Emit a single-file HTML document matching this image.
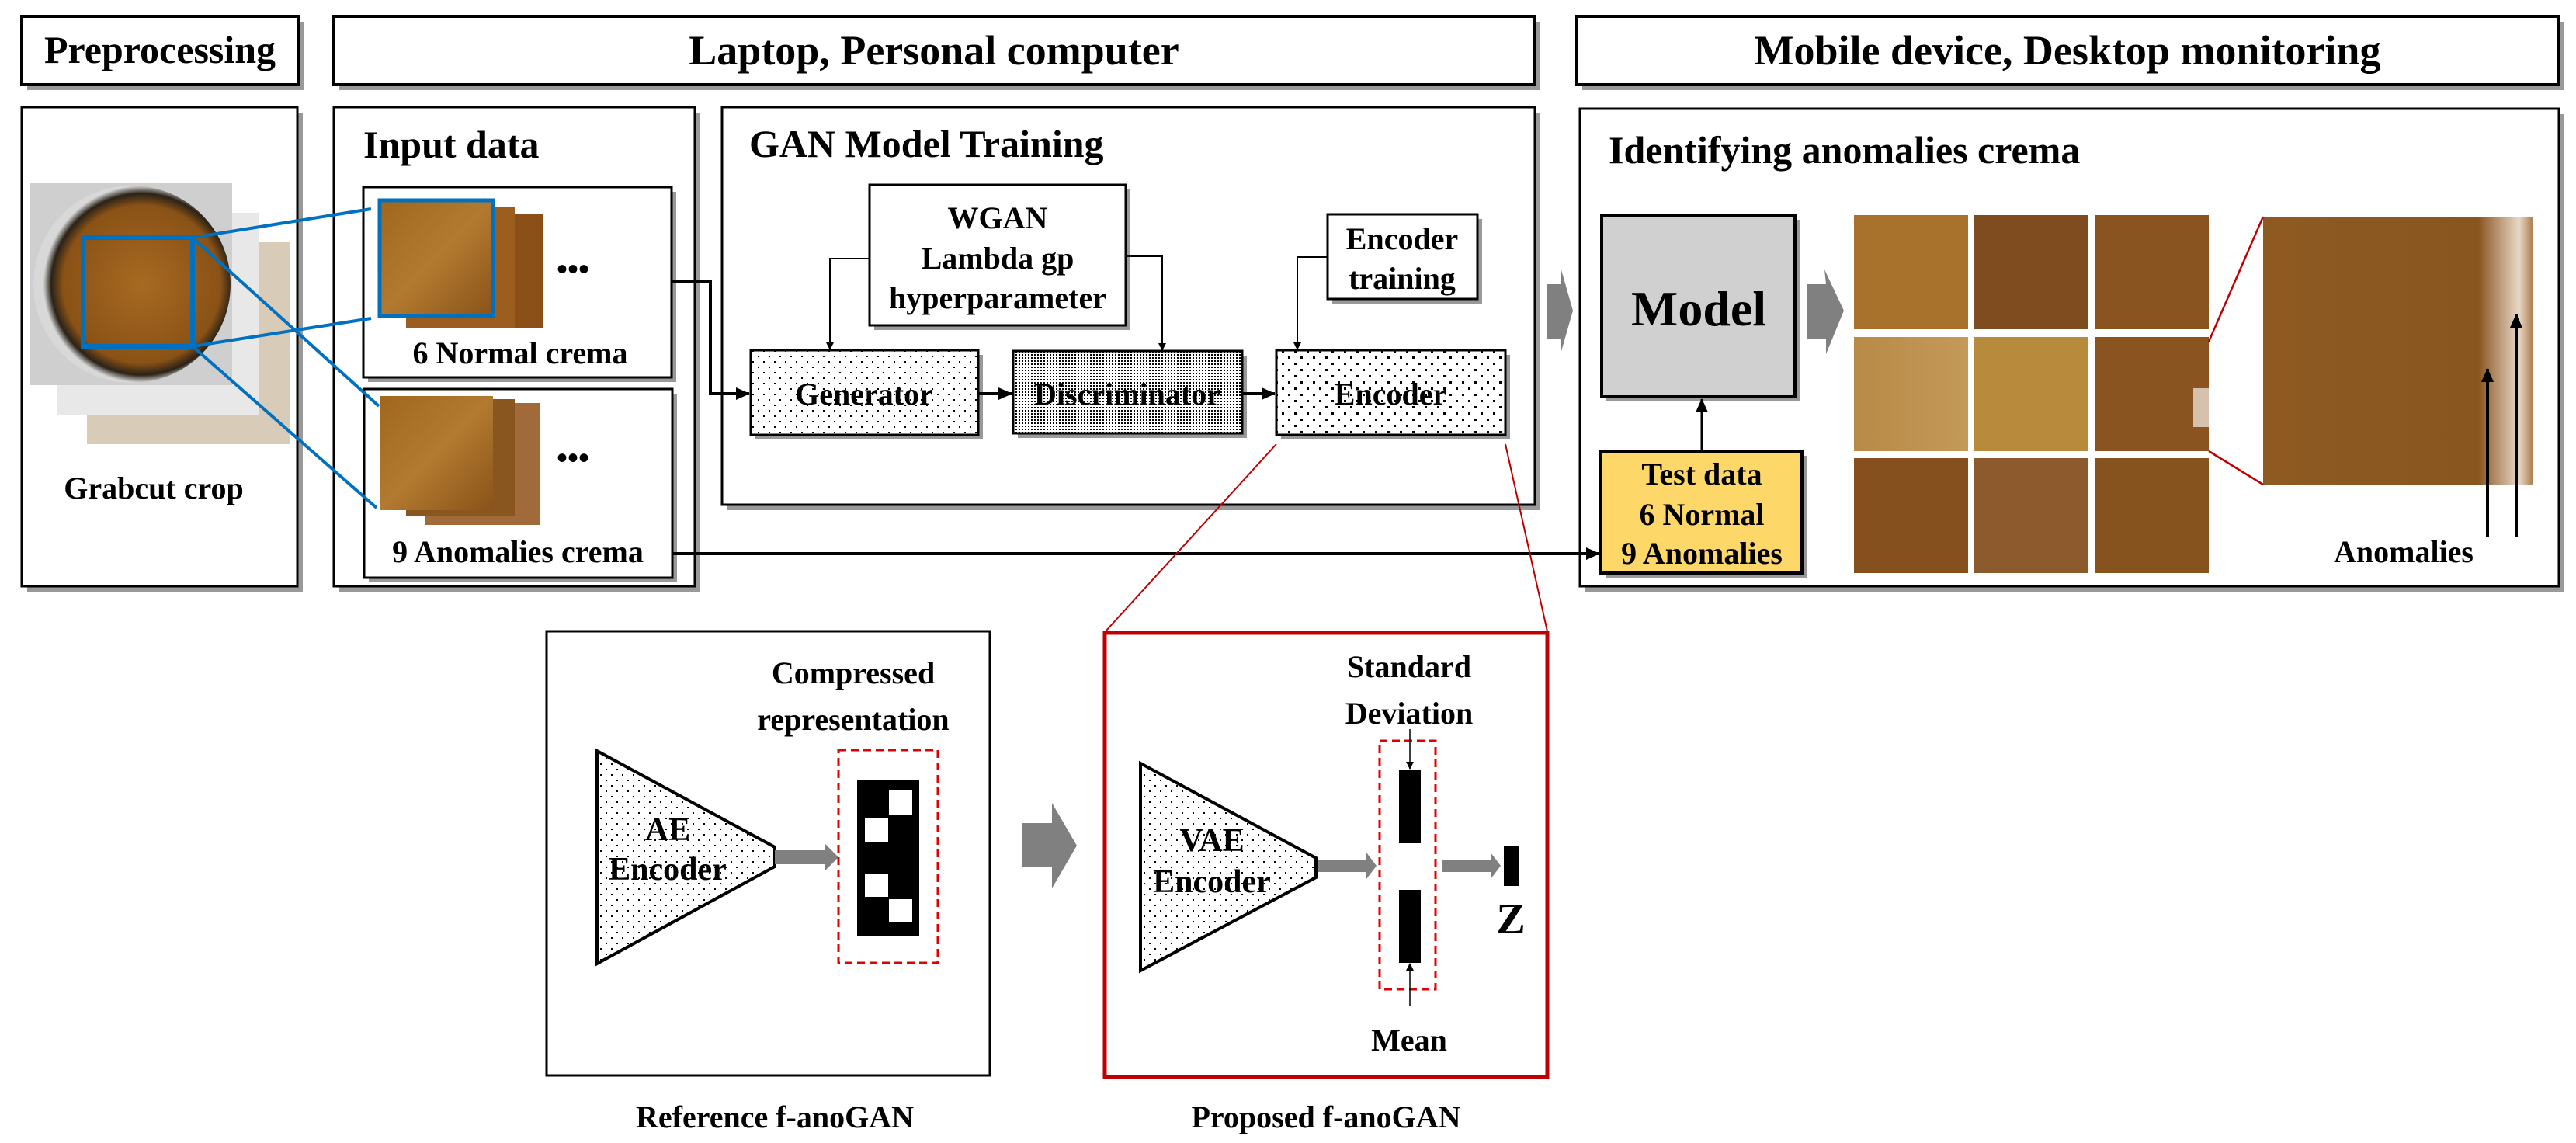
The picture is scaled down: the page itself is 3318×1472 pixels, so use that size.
<!DOCTYPE html>
<html><head><meta charset="utf-8"><style>
html,body{margin:0;padding:0;background:#fff;}
svg{display:block;}
text{font-family:"Liberation Serif",serif;font-weight:bold;fill:#000;}
</style></head><body>
<svg width="3318" height="1472" viewBox="0 0 3318 1472" xmlns="http://www.w3.org/2000/svg">
<defs>
<pattern id="sp" width="14" height="14" patternUnits="userSpaceOnUse"><rect width="14" height="14" fill="#fff"/><rect x="3" y="3" width="2" height="2" fill="#000"/><rect x="10" y="10" width="2" height="2" fill="#000"/></pattern>
<pattern id="sp2" width="16" height="16" patternUnits="userSpaceOnUse"><rect width="16" height="16" fill="#fff"/><rect x="3" y="3" width="3" height="3" fill="#000"/><rect x="11" y="11" width="3" height="3" fill="#000"/></pattern>
<pattern id="dp" width="4" height="4" patternUnits="userSpaceOnUse"><rect width="4" height="4" fill="#fff"/><rect x="0" y="0" width="2" height="2" fill="#000"/></pattern>
<marker id="ah" markerWidth="10" markerHeight="10" refX="9" refY="5" orient="auto" markerUnits="userSpaceOnUse" viewBox="0 0 10 10"><path d="M0,0 L10,5 L0,10z" fill="#000"/></marker>
<marker id="ahb" markerWidth="18" markerHeight="18" refX="17" refY="9" orient="auto" markerUnits="userSpaceOnUse" viewBox="0 0 18 18"><path d="M0,1 L18,9 L0,17z" fill="#000"/></marker>
<linearGradient id="c1" x1="0" y1="0" x2="1" y2="1"><stop offset="0" stop-color="#a0661e"/><stop offset="0.5" stop-color="#b27a30"/><stop offset="1" stop-color="#8a5218"/></linearGradient>
<linearGradient id="c3" x1="0" y1="0" x2="1" y2="0"><stop offset="0" stop-color="#b88a48"/><stop offset="1" stop-color="#c49a58"/></linearGradient>
<linearGradient id="z1" x1="0" y1="0" x2="1" y2="0"><stop offset="0" stop-color="#8e5a22"/><stop offset="0.8" stop-color="#8a5620"/><stop offset="0.95" stop-color="#e8d8c8"/><stop offset="1" stop-color="#b08050"/></linearGradient>
<radialGradient id="cup" cx="0.55" cy="0.5" r="0.5"><stop offset="0" stop-color="#a86a22"/><stop offset="0.8" stop-color="#8a5216"/><stop offset="0.92" stop-color="#2a2218"/><stop offset="1" stop-color="#d8d8d8"/></radialGradient>
</defs>

<!-- headers -->
<rect x="35" y="28" width="357" height="88" fill="#999"/>
<rect x="28" y="21" width="357" height="88" fill="#fff" stroke="#000" stroke-width="4"/>
<text x="206" y="81" font-size="50" text-anchor="middle">Preprocessing</text>
<rect x="437" y="28" width="1547" height="88" fill="#999"/>
<rect x="430" y="21" width="1547" height="88" fill="#fff" stroke="#000" stroke-width="4"/>
<text x="1203" y="83" font-size="54" text-anchor="middle">Laptop, Personal computer</text>
<rect x="2038" y="28" width="1265" height="88" fill="#999"/>
<rect x="2031" y="21" width="1265" height="88" fill="#fff" stroke="#000" stroke-width="4"/>
<text x="2663" y="83" font-size="54" text-anchor="middle">Mobile device, Desktop monitoring</text>

<!-- body boxes -->
<rect x="35" y="145" width="355" height="617" fill="#999"/>
<rect x="28" y="138" width="355" height="617" fill="#fff" stroke="#000" stroke-width="3"/>
<rect x="437" y="145" width="465" height="617" fill="#999"/>
<rect x="430" y="138" width="465" height="617" fill="#fff" stroke="#000" stroke-width="3"/>
<rect x="937" y="145" width="1047" height="512" fill="#999"/>
<rect x="930" y="138" width="1047" height="512" fill="#fff" stroke="#000" stroke-width="3"/>
<rect x="2042" y="147" width="1261" height="615" fill="#999"/>
<rect x="2035" y="140" width="1261" height="615" fill="#fff" stroke="#000" stroke-width="3"/>

<!-- grabcut photos -->
<rect x="112" y="312" width="261" height="260" fill="#d8cbb8"/>
<rect x="74" y="274" width="260" height="261" fill="#e8e8e8"/>
<rect x="39" y="236" width="260" height="260" fill="#cfcfcf"/>
<circle cx="170" cy="366" r="127" fill="url(#cup)"/>
<rect x="107" y="306" width="141" height="140" fill="none" stroke="#0070c0" stroke-width="6"/>
<text x="198" y="642" font-size="40" text-anchor="middle">Grabcut crop</text>

<!-- input data -->
<text x="468" y="203" font-size="50">Input data</text>
<rect x="474" y="247" width="397" height="245" fill="#999"/>
<rect x="468" y="241" width="397" height="245" fill="#fff" stroke="#000" stroke-width="3"/>
<rect x="552" y="275" width="147" height="147" fill="#8a5018"/>
<rect x="523" y="266" width="140" height="156" fill="#9c5e1e"/>
<rect x="489" y="258" width="146" height="149" fill="url(#c1)" stroke="#0070c0" stroke-width="5"/>
<text x="738" y="360" font-size="40" text-anchor="middle">•••</text>
<text x="670" y="468" font-size="40" text-anchor="middle">6 Normal crema</text>
<rect x="475" y="507" width="397" height="243" fill="#999"/>
<rect x="469" y="501" width="397" height="243" fill="#fff" stroke="#000" stroke-width="3"/>
<rect x="548" y="519" width="147" height="157" fill="#a06a3a"/>
<rect x="523" y="514" width="140" height="150" fill="#8a5620"/>
<rect x="489" y="510" width="146" height="147" fill="url(#c1)"/>
<text x="738" y="603" font-size="40" text-anchor="middle">•••</text>
<text x="667" y="724" font-size="40" text-anchor="middle">9 Anomalies crema</text>

<!-- blue zoom lines -->
<g stroke="#0070c0" stroke-width="4">
<line x1="248" y1="306" x2="478" y2="269"/>
<line x1="248" y1="446" x2="478" y2="410"/>
<line x1="248" y1="306" x2="488" y2="523"/>
<line x1="248" y1="446" x2="485" y2="654"/>
</g>

<!-- GAN -->
<text x="965" y="202" font-size="50">GAN Model Training</text>
<rect x="1126" y="244" width="330" height="181" fill="#999"/>
<rect x="1120" y="238" width="330" height="181" fill="#fff" stroke="#000" stroke-width="3"/>
<text x="1285" y="294" font-size="40" text-anchor="middle">WGAN</text>
<text x="1285" y="346" font-size="40" text-anchor="middle">Lambda gp</text>
<text x="1285" y="397" font-size="40" text-anchor="middle">hyperparameter</text>
<rect x="1716" y="282" width="193" height="109" fill="#999"/>
<rect x="1710" y="276" width="193" height="109" fill="#fff" stroke="#000" stroke-width="3"/>
<text x="1806" y="321" font-size="40" text-anchor="middle">Encoder</text>
<text x="1806" y="372" font-size="40" text-anchor="middle">training</text>

<rect x="973" y="457" width="293" height="109" fill="#999"/>
<rect x="967" y="451" width="293" height="109" fill="url(#sp)" stroke="#000" stroke-width="3"/>
<text x="1113" y="521" font-size="40" text-anchor="middle">Generator</text>
<rect x="1311" y="458" width="295" height="106" fill="#999"/>
<rect x="1305" y="452" width="295" height="106" fill="url(#dp)" stroke="#000" stroke-width="3"/>
<text x="1452" y="521" font-size="40" text-anchor="middle">Discriminator</text>
<rect x="1650" y="457" width="295" height="109" fill="#999"/>
<rect x="1644" y="451" width="295" height="109" fill="url(#sp2)" stroke="#000" stroke-width="3"/>
<text x="1791" y="521" font-size="40" text-anchor="middle">Encoder</text>

<g stroke="#000" stroke-width="2" fill="none">
<polyline points="1120,333 1069,333 1069,450" marker-end="url(#ah)"/>
<polyline points="1450,330 1497,330 1497,451" marker-end="url(#ah)"/>
<polyline points="1710,331 1671,331 1671,450" marker-end="url(#ah)"/>
</g>
<g stroke="#000" stroke-width="4" fill="none">
<polyline points="865,363 915,363 915,507 965,507" marker-end="url(#ahb)"/>
<line x1="1260" y1="507" x2="1303" y2="507" marker-end="url(#ahb)"/>
<line x1="1600" y1="507" x2="1642" y2="507" marker-end="url(#ahb)"/>
<line x1="866" y1="713" x2="2060" y2="713" marker-end="url(#ahb)"/>
</g>

<!-- big grey arrows -->
<path d="M1993,366 L2010,366 L2010,344 L2026,400 L2010,456 L2010,436 L1993,436z" fill="#808080"/>
<path d="M2328,366 L2352,366 L2350,347 L2375,400 L2352,456 L2352,436 L2328,436z" fill="#808080"/>

<!-- identifying -->
<text x="2072" y="210" font-size="50">Identifying anomalies crema</text>
<rect x="2069" y="283" width="249" height="234" fill="#999"/>
<rect x="2063" y="277" width="249" height="234" fill="#d0d0d0" stroke="#000" stroke-width="4"/>
<text x="2188" y="419" font-size="64" text-anchor="middle">Model</text>
<rect x="2068" y="587" width="259" height="157" fill="#999"/>
<rect x="2062" y="581" width="259" height="157" fill="#fdd868" stroke="#000" stroke-width="4"/>
<text x="2192" y="624" font-size="40" text-anchor="middle">Test data</text>
<text x="2192" y="676" font-size="40" text-anchor="middle">6 Normal</text>
<text x="2192" y="726" font-size="40" text-anchor="middle">9 Anomalies</text>
<line x1="2192" y1="581" x2="2192" y2="514" stroke="#000" stroke-width="3" marker-end="url(#ahb)"/>

<g>
<rect x="2388" y="277" width="147" height="147" fill="#a8722c"/>
<rect x="2543" y="277" width="146" height="147" fill="#7e4c1e"/>
<rect x="2698" y="277" width="147" height="147" fill="#8a5420"/>
<rect x="2388" y="434" width="147" height="147" fill="url(#c3)"/>
<rect x="2543" y="434" width="146" height="147" fill="#b88a3c"/>
<rect x="2698" y="434" width="147" height="147" fill="#8a5420"/>
<rect x="2388" y="590" width="147" height="148" fill="#86501e"/>
<rect x="2543" y="590" width="146" height="148" fill="#8c5a2c"/>
<rect x="2698" y="590" width="147" height="148" fill="#86521e"/>
<rect x="2915" y="279" width="347" height="345" fill="url(#z1)"/>
<rect x="2825" y="500" width="20" height="50" fill="#e8ddd0" opacity="0.8"/>
</g>
<g stroke="#c00000" stroke-width="2.5">
<line x1="2845" y1="440" x2="2915" y2="279"/>
<line x1="2845" y1="581" x2="2915" y2="624"/>
</g>
<g stroke="#000" stroke-width="4">
<line x1="3204" y1="692" x2="3204" y2="475" marker-end="url(#ahb)"/>
<line x1="3241" y1="692" x2="3241" y2="405" marker-end="url(#ahb)"/>
</g>
<text x="3096" y="724" font-size="40" text-anchor="middle">Anomalies</text>

<!-- red leader lines to proposed -->
<g stroke="#c00000" stroke-width="2">
<line x1="1644" y1="572" x2="1424" y2="813"/>
<line x1="1939" y1="572" x2="1993" y2="813"/>
</g>

<!-- reference f-anoGAN -->
<rect x="704" y="813" width="571" height="572" fill="#fff" stroke="#000" stroke-width="3"/>
<text x="1099" y="880" font-size="40" text-anchor="middle">Compressed</text>
<text x="1099" y="940" font-size="40" text-anchor="middle">representation</text>
<path d="M769,967 L998,1091 L998,1116 L769,1241z" fill="url(#sp)" stroke="#000" stroke-width="4"/>
<text x="860" y="1082" font-size="42" text-anchor="middle">AE</text>
<text x="860" y="1133" font-size="42" text-anchor="middle">Encoder</text>
<path d="M998,1095 L1062,1095 L1062,1086 L1080,1104 L1062,1122 L1062,1113 L998,1113z" fill="#808080"/>
<rect x="1080" y="966" width="128" height="274" fill="none" stroke="#e00000" stroke-width="3" stroke-dasharray="10,6"/>
<rect x="1104" y="1004" width="80" height="202" fill="#000"/>
<rect x="1145" y="1018" width="30" height="31" fill="#fff"/>
<rect x="1114" y="1054" width="30" height="31" fill="#fff"/>
<rect x="1114" y="1125" width="30" height="30" fill="#fff"/>
<rect x="1145" y="1158" width="30" height="30" fill="#fff"/>
<text x="998" y="1452" font-size="40" text-anchor="middle">Reference f-anoGAN</text>

<path d="M1317,1060 L1355,1060 L1355,1034 L1387,1089 L1355,1144 L1355,1117 L1317,1117z" fill="#808080"/>

<!-- proposed -->
<rect x="1423" y="815" width="570" height="572" fill="#fff" stroke="#c00000" stroke-width="5"/>
<text x="1815" y="872" font-size="40" text-anchor="middle">Standard</text>
<text x="1815" y="932" font-size="40" text-anchor="middle">Deviation</text>
<path d="M1469,983 L1695,1105 L1695,1130 L1469,1250z" fill="url(#sp)" stroke="#000" stroke-width="4"/>
<text x="1561" y="1096" font-size="42" text-anchor="middle">VAE</text>
<text x="1561" y="1149" font-size="42" text-anchor="middle">Encoder</text>
<path d="M1697,1107 L1760,1107 L1760,1098 L1773,1115 L1760,1132 L1760,1123 L1697,1123z" fill="#808080"/>
<rect x="1777" y="954" width="72" height="320" fill="none" stroke="#e00000" stroke-width="3" stroke-dasharray="10,6"/>
<rect x="1802" y="991" width="28" height="95" fill="#000"/>
<rect x="1802" y="1146" width="28" height="94" fill="#000"/>
<line x1="1816" y1="939" x2="1816" y2="990" stroke="#000" stroke-width="1.5" marker-end="url(#ah)"/>
<line x1="1816" y1="1296" x2="1816" y2="1241" stroke="#000" stroke-width="1.5" marker-end="url(#ah)"/>
<path d="M1857,1107 L1920,1107 L1920,1098 L1933,1115 L1920,1132 L1920,1123 L1857,1123z" fill="#808080"/>
<rect x="1937" y="1089" width="19" height="52" fill="#000"/>
<text x="1946" y="1202" font-size="56" text-anchor="middle">Z</text>
<text x="1815" y="1353" font-size="40" text-anchor="middle">Mean</text>
<text x="1708" y="1452" font-size="40" text-anchor="middle">Proposed f-anoGAN</text>
</svg>
</body></html>
